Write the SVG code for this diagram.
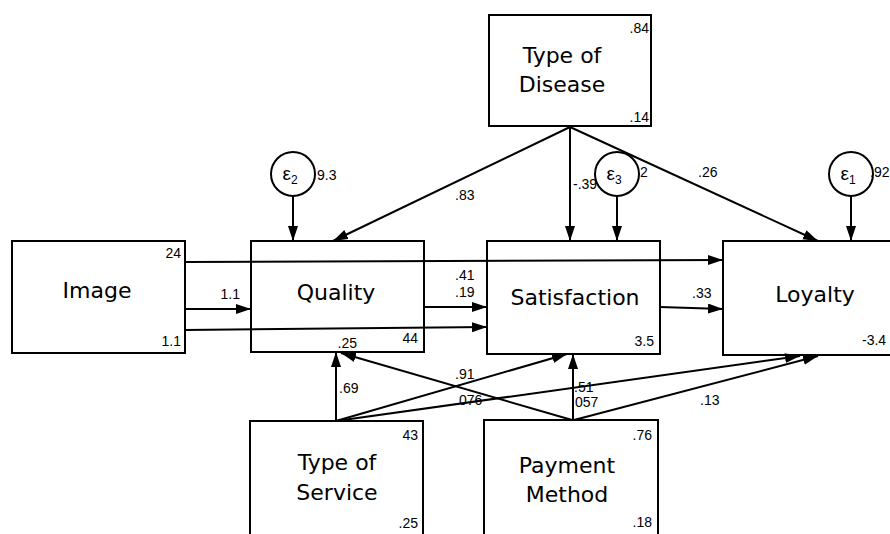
<svg xmlns="http://www.w3.org/2000/svg" width="890" height="534" viewBox="0 0 890 534">
<defs>
<marker id="ah" markerUnits="userSpaceOnUse" markerWidth="16" markerHeight="12" refX="15" refY="5" orient="auto">
<path d="M0,0 L15,5 L0,10 z" fill="#000"/>
</marker>
<style>
.box{fill:#fff;stroke:#000;stroke-width:2}
.circ{fill:#fff;stroke:#000;stroke-width:2}
.main{font-family:"DejaVu Sans",Verdana,sans-serif;font-size:22px;fill:#000;text-anchor:middle}
.lab{font-family:"Liberation Sans",Arial,sans-serif;font-size:14px;fill:#000}
.end{text-anchor:end}
.eps{font-family:"Liberation Sans",Arial,sans-serif;font-size:19px;fill:#000;text-anchor:middle}
.con line{stroke:#000;stroke-width:2;marker-end:url(#ah)}
</style>
</defs>
<rect width="890" height="534" fill="#fff"/>

<g id="node-type-of-disease">
<rect class="box" x="489" y="15" width="162" height="111"/>
<text class="main" x="562" y="63">Type of</text>
<text class="main" x="562" y="92">Disease</text>
<text class="lab end" x="649" y="33">.84</text>
<text class="lab end" x="649" y="122">.14</text>
</g>

<g id="node-image">
<rect class="box" x="12" y="241" width="173" height="112"/>
<text class="main" x="97" y="298">Image</text>
<text class="lab end" x="181" y="258">24</text>
<text class="lab end" x="181" y="346">1.1</text>
</g>

<g id="node-quality">
<rect class="box" x="251" y="241" width="173" height="111"/>
<text class="main" x="336" y="300">Quality</text>
<text class="lab end" x="418" y="343">44</text>
<text class="lab end" x="357" y="348">.25</text>
</g>

<g id="node-satisfaction">
<rect class="box" x="487" y="241" width="173" height="113"/>
<text class="main" x="575" y="305">Satisfaction</text>
<text class="lab end" x="654" y="346">3.5</text>
</g>

<g id="node-loyalty">
<rect class="box" x="723" y="241" width="180" height="114"/>
<text class="main" x="815" y="302">Loyalty</text>
<text class="lab" x="862" y="345">-3.4</text>
</g>

<g id="node-type-of-service">
<rect class="box" x="250" y="421" width="173" height="130"/>
<text class="main" x="337" y="470">Type of</text>
<text class="main" x="337" y="500">Service</text>
<text class="lab end" x="418" y="440">43</text>
<text class="lab end" x="418" y="528">.25</text>
</g>

<g id="node-payment-method">
<rect class="box" x="484" y="420" width="174" height="130"/>
<text class="main" x="567" y="473">Payment</text>
<text class="main" x="567" y="502">Method</text>
<text class="lab end" x="652" y="440">.76</text>
<text class="lab end" x="652" y="527">.18</text>
</g>

<g id="node-e2">
<circle class="circ" cx="293" cy="174" r="22"/>
<text class="eps" x="290" y="180">ε<tspan font-size="12" dy="4">2</tspan></text>
<text class="lab" x="317" y="180">9.3</text>
</g>

<g id="node-e3">
<circle class="circ" cx="617" cy="174" r="22"/>
<text class="eps" x="614" y="180">ε<tspan font-size="12" dy="4">3</tspan></text>
<text class="lab" x="640" y="177">2</text>
</g>

<g id="node-e1">
<circle class="circ" cx="851" cy="174" r="22"/>
<text class="eps" x="848" y="180">ε<tspan font-size="12" dy="4">1</tspan></text>
<text class="lab" x="870" y="177">.92</text>
</g>

<g id="edge-labels">
<text class="lab" x="455" y="200">.83</text>
<text class="lab" x="573" y="189">-.39</text>
<text class="lab" x="698" y="177">.26</text>
<text class="lab end" x="240" y="299">1.1</text>
<text class="lab" x="455" y="280">.41</text>
<text class="lab" x="455" y="297">.19</text>
<text class="lab" x="692" y="298">.33</text>
<text class="lab" x="339" y="393">.69</text>
<text class="lab" x="455" y="379">.91</text>
<text class="lab" x="455" y="405">.076</text>
<text class="lab" x="574" y="392">.51</text>
<text class="lab" x="571" y="407">.057</text>
<text class="lab" x="700" y="405">.13</text>
</g>

<g id="connectors" class="con">
<line x1="293" y1="196" x2="293" y2="241"/>
<line x1="617" y1="196" x2="617" y2="241"/>
<line x1="851" y1="196" x2="851" y2="241"/>
<line x1="570" y1="127" x2="333" y2="241"/>
<line x1="570" y1="127" x2="570" y2="241"/>
<line x1="570" y1="127" x2="818" y2="241"/>
<line x1="185" y1="262" x2="723" y2="260"/>
<line x1="185" y1="309" x2="251" y2="309"/>
<line x1="185" y1="330" x2="487" y2="327"/>
<line x1="424" y1="307" x2="487" y2="307"/>
<line x1="660" y1="307" x2="723" y2="309"/>
<line x1="336" y1="421" x2="336" y2="352"/>
<line x1="336" y1="421" x2="567" y2="354"/>
<line x1="336" y1="421" x2="800" y2="356"/>
<line x1="572" y1="420" x2="341" y2="353"/>
<line x1="573" y1="420" x2="573" y2="354"/>
<line x1="574" y1="420" x2="818" y2="356"/>
</g>
</svg>
